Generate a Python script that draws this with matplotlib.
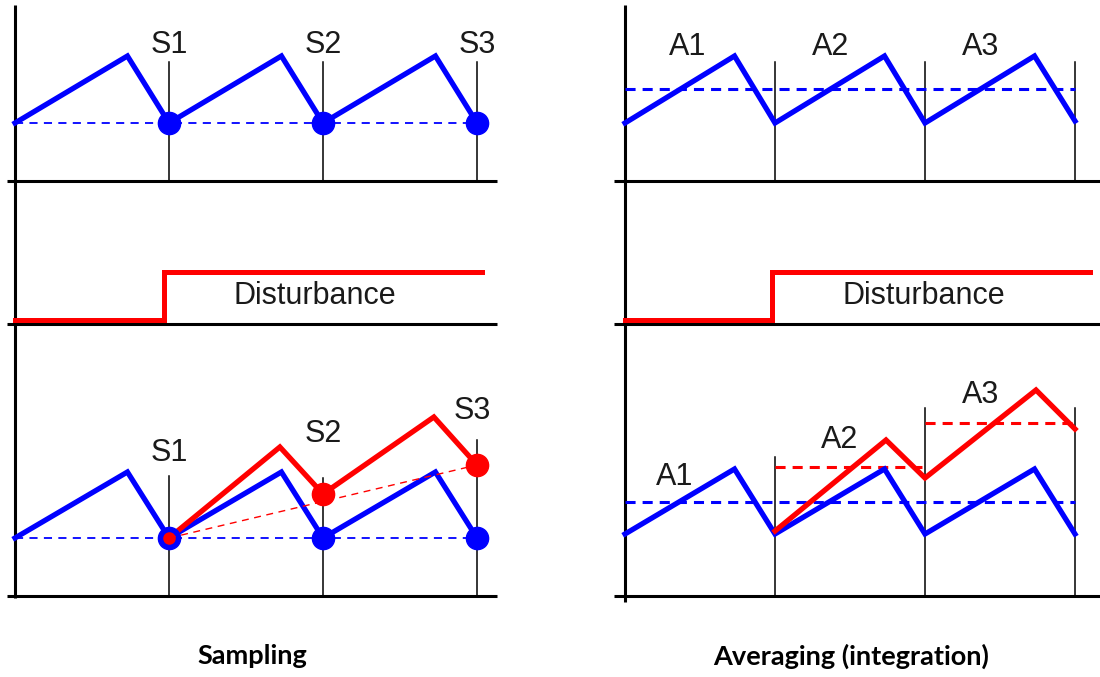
import matplotlib.pyplot as plt

# Time in sample periods (S1/A1 boundary at t=1, etc.)
t_saw = [0, 0.73, 1, 1.73, 2, 2.73, 3]
t_red = [1, 1.72, 2, 2.72, 3]
t_samples = [1, 2, 3]

# Sampling column values
samp_top = [5.8, 12.5, 5.8, 12.5, 5.8, 12.5, 5.8]
samp_bot_blue = [5.8, 12.4, 5.8, 12.4, 5.8, 12.4, 5.8]
samp_bot_red = [5.8, 14.9, 10.2, 17.9, 13.1]
samp_top_points = [5.8, 5.8, 5.8]
samp_blue_points = [5.8, 5.8, 5.8]
samp_red_points = [10.2, 13.1]
samp_labels = ['S1', 'S2', 'S3']

# Averaging column values
avg_top = [5.8, 12.5, 5.8, 12.5, 5.8, 12.5, 6.0]
avg_top_mean = 9.2
avg_bot_blue = [6.2, 12.7, 6.2, 12.7, 6.2, 12.7, 6.2]
avg_bot_red = [6.5, 15.6, 11.8, 20.6, 16.7]
avg_blue_mean = 9.4
avg_red_means = [12.9, 17.3]
avg_labels = ['A1', 'A2', 'A3']

# Disturbance step
step_t_left = [0, 0.97, 0.97, 3.03]
step_t_right = [0, 0.98, 0.98, 3.1]
step_vals = [0.4, 0.4, 5.2, 5.2]

BLUE = '#0000ff'
RED = '#ff0000'
TXT = '#1a1a1a'
W, H = 1100, 677

fig = plt.figure(figsize=(W / 100, H / 100), dpi=100)


def make_axes(px_left, px_right, t0_px, scale, top_px, bot_px):
    ax = fig.add_axes([px_left / W, 1 - bot_px / H, (px_right - px_left) / W,
                       (bot_px - top_px) / H])
    ax.set_xlim((px_left - t0_px) / scale, (px_right - t0_px) / scale)
    ax.set_ylim(0, (bot_px - top_px) / 10)
    ax.axis('off')
    return ax


def frame(ax, x0, x1, ytop, ybot=0):
    ax.plot([x0, x1], [0, 0], color='black', lw=2.2, clip_on=False,
            solid_capstyle='butt')
    ax.plot([0, 0], [ybot, ytop], color='black', lw=2.2, clip_on=False,
            solid_capstyle='butt')


txt_kw = dict(fontsize=22, color=TXT, ha='center', va='center',
              family='Liberation Sans')

# ---------------- Sampling (left) ----------------
L = dict(px_left=0, px_right=500, t0_px=15, scale=154)
ax1 = make_axes(top_px=0, bot_px=181, **L)
ax2 = make_axes(top_px=181, bot_px=324, **L)
ax3 = make_axes(top_px=324, bot_px=596, **L)

frame(ax1, -0.052, 3.13, 17.6)
for t, lab in zip(t_samples, samp_labels):
    ax1.plot([t, t], [0, 11.9], color='black', lw=1.1)
    ax1.text(t, 13.6, lab, **txt_kw)
ax1.plot([0, 3], [5.8, 5.8], color=BLUE, lw=1.3, dashes=(4.5, 3.5))
ax1.plot(t_saw, samp_top, color=BLUE, lw=3.8, solid_joinstyle='miter')
ax1.plot(t_samples, samp_top_points, 'o', color=BLUE, ms=16, clip_on=False)

frame(ax2, -0.052, 3.13, 14.3)
ax2.plot(step_t_left, step_vals, color=RED, lw=3.6, solid_joinstyle='miter')
ax2.text(1.95, 2.8, 'Disturbance', **txt_kw)

frame(ax3, -0.052, 3.13, 27.2, -0.2)
for t, top in zip(t_samples, [12.0, 11.8, 15.6]):
    ax3.plot([t, t], [0, top], color='black', lw=1.1)
for t, y, lab in zip([1, 2, 2.97], [14.3, 16.2, 18.5], samp_labels):
    ax3.text(t, y, lab, **txt_kw)
ax3.plot([0, 3], [5.8, 5.8], color=BLUE, lw=1.3, dashes=(4.5, 3.5))
ax3.plot(t_saw, samp_bot_blue, color=BLUE, lw=3.8, solid_joinstyle='miter')
ax3.plot(t_red, samp_bot_red, color=RED, lw=3.8, solid_joinstyle='miter')
ax3.plot(t_samples, samp_blue_points, 'o', color=BLUE, ms=16, clip_on=False)
ax3.plot([1, 3], [samp_bot_red[0], samp_red_points[-1]], color=RED, lw=1.0,
         dashes=(5, 4))
ax3.plot(t_samples[1:], samp_red_points, 'o', color=RED, ms=16, clip_on=False)
ax3.plot([1], [samp_bot_red[0]], 'o', color=RED, ms=8)

# ---------------- Averaging (right) ----------------
R = dict(px_left=600, px_right=1100, t0_px=625, scale=150)
ax4 = make_axes(top_px=0, bot_px=181, **R)
ax5 = make_axes(top_px=181, bot_px=324, **R)
ax6 = make_axes(top_px=324, bot_px=596, **R)

frame(ax4, -0.073, 3.167, 17.6)
for t in t_samples:
    ax4.plot([t, t], [0, 11.9], color='black', lw=1.1)
for t, lab in zip([0.42, 1.37, 2.37], avg_labels):
    ax4.text(t, 13.4, lab, **txt_kw)
ax4.plot([0, 3], [avg_top_mean] * 2, color=BLUE, lw=2.2, dashes=(3.3, 2.3))
ax4.plot(t_saw, avg_top, color=BLUE, lw=3.8, solid_joinstyle='miter')

frame(ax5, -0.073, 3.167, 14.3)
ax5.plot(step_t_right, step_vals, color=RED, lw=3.6, solid_joinstyle='miter')
ax5.text(1.99, 2.8, 'Disturbance', **txt_kw)

frame(ax6, -0.073, 3.167, 27.2, -0.6)
for t, top in zip(t_samples, [13.9, 18.8, 18.8]):
    ax6.plot([t, t], [0, top], color='black', lw=1.1)
for t, y, lab in zip([0.33, 1.43, 2.37], [11.9, 15.6, 20.1], avg_labels):
    ax6.text(t, y, lab, **txt_kw)
ax6.plot([0, 3], [avg_blue_mean] * 2, color=BLUE, lw=2.2, dashes=(3.3, 2.3))
for (a, b), m in zip([(1, 2), (2, 3)], avg_red_means):
    ax6.plot([a, b], [m, m], color=RED, lw=2.2, dashes=(3.3, 2.3))
ax6.plot(t_saw, avg_bot_blue, color=BLUE, lw=3.8, solid_joinstyle='miter')
ax6.plot([1, 1.74, 2, 2.74, 3], avg_bot_red, color=RED, lw=3.8,
         solid_joinstyle='miter')

# Column captions
fig.text(252 / W, 1 - 656 / H, 'Sampling', fontsize=19.5, fontweight='bold',
         family='Lato', ha='center', va='center')
fig.text(851 / W, 1 - 656 / H, 'Averaging (integration)', fontsize=19.5,
         fontweight='bold', family='Lato', ha='center', va='center')

plt.savefig('out.png', dpi=100)
